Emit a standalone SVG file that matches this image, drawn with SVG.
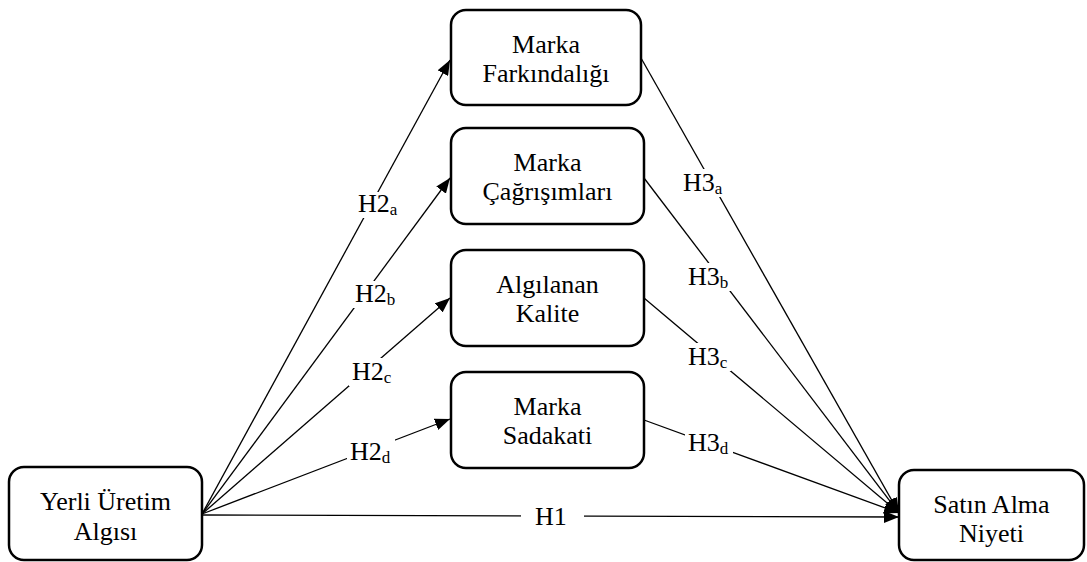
<svg xmlns="http://www.w3.org/2000/svg" width="1087" height="562" viewBox="0 0 1087 562">
<defs>
<style>
.box{fill:#fff;stroke:#000;stroke-width:2.5}
.t{font-size:26px;fill:#000}
.c{text-anchor:middle}
.ln{stroke:#000;stroke-width:1.3;fill:none}
.bg{fill:#fff}
.s{font-size:17px}
</style>
<marker id="ah" markerUnits="userSpaceOnUse" markerWidth="16" markerHeight="12" refX="15" refY="6" orient="auto">
<path d="M0,0 L15,6 L0,12 Z" fill="#000"/>
</marker>
</defs>
<rect width="1087" height="562" fill="#fff"/>
<g font-family="Liberation Serif, Times New Roman, serif">
<g id="connectors">
<line class="ln" x1="202" y1="514" x2="450" y2="60" marker-end="url(#ah)"/>
<line class="ln" x1="202" y1="514" x2="450" y2="178" marker-end="url(#ah)"/>
<line class="ln" x1="202" y1="514" x2="450" y2="298" marker-end="url(#ah)"/>
<line class="ln" x1="202" y1="514" x2="450" y2="419" marker-end="url(#ah)"/>
<line class="ln" x1="202" y1="515" x2="899" y2="517" marker-end="url(#ah)"/>
<line class="ln" x1="641" y1="58" x2="899" y2="513" marker-end="url(#ah)"/>
<line class="ln" x1="644" y1="178" x2="899" y2="513" marker-end="url(#ah)"/>
<line class="ln" x1="644" y1="298" x2="899" y2="513" marker-end="url(#ah)"/>
<line class="ln" x1="644" y1="420" x2="899" y2="513" marker-end="url(#ah)"/>
<rect class="bg" x="355" y="192" width="46" height="26"/>
<rect class="bg" x="352" y="281" width="48" height="27"/>
<rect class="bg" x="349" y="358" width="46" height="28"/>
<rect class="bg" x="347" y="438" width="48" height="28"/>
<rect class="bg" x="680" y="169" width="46" height="28"/>
<rect class="bg" x="685" y="263" width="48" height="28"/>
<rect class="bg" x="685" y="343" width="46" height="28"/>
<rect class="bg" x="685" y="429" width="48" height="28"/>
<rect class="bg" x="521" y="506" width="63" height="24"/>
<text class="t" x="358" y="212">H2<tspan class="s" dy="3">a</tspan></text>
<text class="t" x="355" y="302">H2<tspan class="s" dy="3">b</tspan></text>
<text class="t" x="352" y="380">H2<tspan class="s" dy="3">c</tspan></text>
<text class="t" x="350" y="460">H2<tspan class="s" dy="3">d</tspan></text>
<text class="t" x="683" y="191">H3<tspan class="s" dy="3">a</tspan></text>
<text class="t" x="688" y="285">H3<tspan class="s" dy="3">b</tspan></text>
<text class="t" x="688" y="365">H3<tspan class="s" dy="3">c</tspan></text>
<text class="t" x="688" y="451">H3<tspan class="s" dy="3">d</tspan></text>
<text class="t" x="535" y="525">H1</text>
</g>
<g id="n-farkindalik">
<rect class="box" x="451" y="10" width="190" height="95" rx="15"/>
<text class="t c" x="546" y="53">Marka</text>
<text class="t c" x="546" y="82">Farkındalığı</text>
</g>
<g id="n-cagrisim">
<rect class="box" x="451" y="128" width="193" height="96" rx="15"/>
<text class="t c" x="547.5" y="171">Marka</text>
<text class="t c" x="547.5" y="200">Çağrışımları</text>
</g>
<g id="n-kalite">
<rect class="box" x="451" y="250" width="193" height="96" rx="15"/>
<text class="t c" x="547.5" y="293">Algılanan</text>
<text class="t c" x="547.5" y="322">Kalite</text>
</g>
<g id="n-sadakat">
<rect class="box" x="451" y="372" width="193" height="96" rx="15"/>
<text class="t c" x="547.5" y="415">Marka</text>
<text class="t c" x="547.5" y="444">Sadakati</text>
</g>
<g id="n-yerli">
<rect class="box" x="9" y="467" width="193" height="93" rx="15"/>
<text class="t c" x="105.5" y="510">Yerli Üretim</text>
<text class="t c" x="105.5" y="540">Algısı</text>
</g>
<g id="n-satin">
<rect class="box" x="899" y="470" width="185" height="90" rx="15"/>
<text class="t c" x="991.5" y="513">Satın Alma</text>
<text class="t c" x="991.5" y="542">Niyeti</text>
</g>
</g>
</svg>
